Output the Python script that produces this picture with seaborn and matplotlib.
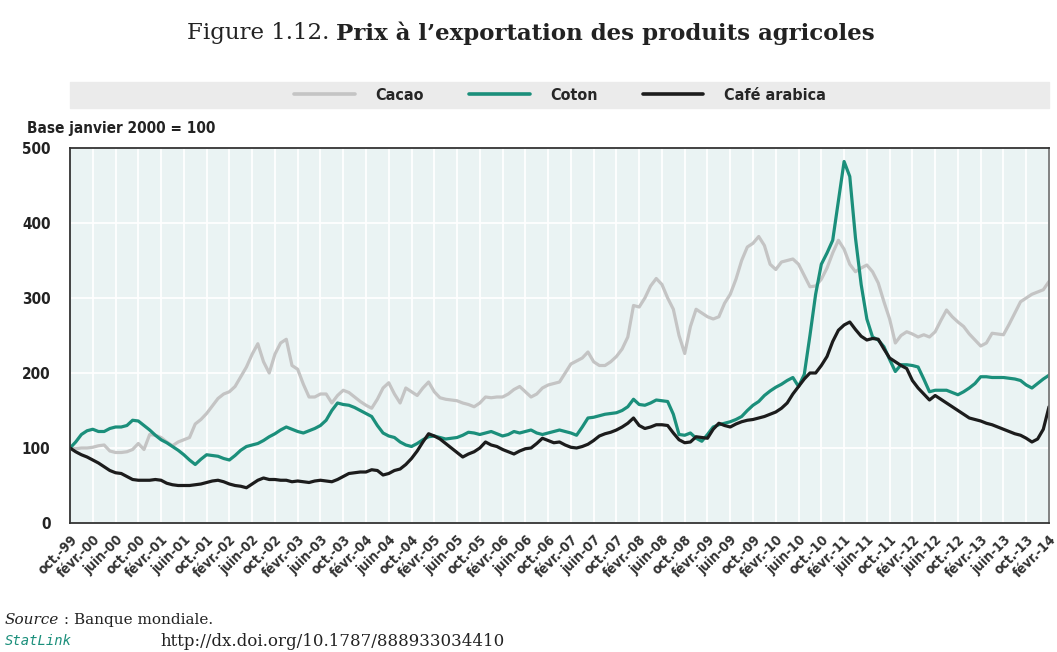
import matplotlib
matplotlib.use("Agg")
import matplotlib.pyplot as plt
import seaborn as sns
import numpy as np
import pandas as pd
from matplotlib.patches import Rectangle
from matplotlib.lines import Line2D
from matplotlib import font_manager

# monthly index, oct. 1999 -> févr. 2014 (base janvier 2000 = 100)
cacao = [100, 99, 100, 100, 101, 103, 104, 96, 94, 94,
         95, 98, 106, 98, 118, 117, 114, 108, 103, 108,
         111, 114, 132, 138, 146, 156, 166, 172, 175, 182,
         195, 208, 225, 239, 215, 200, 225, 240, 245, 210,
         205, 185, 168, 168, 172, 172, 160, 170, 177, 174,
         168, 162, 157, 153, 165, 180, 187, 172, 160, 180,
         175, 170, 180, 188, 175, 167, 165, 164, 163, 160,
         158, 155, 160, 168, 167, 168, 168, 172, 178, 182,
         175, 168, 172, 180, 184, 186, 188, 200, 212, 216,
         220, 228, 215, 210, 210, 215, 222, 232, 248, 290,
         288, 300, 316, 326, 318, 300, 285, 250, 226, 262,
         285, 280, 275, 272, 275, 293, 305, 325, 350, 368,
         373, 382, 370, 345, 338, 348, 350, 352, 345, 330,
         315, 316, 325, 340, 360, 377, 365, 345, 335, 340,
         344, 335, 320, 295, 272, 240, 250, 255, 252, 248,
         251, 248, 255, 270, 284, 275, 268, 262, 252, 244,
         236, 240, 253, 252, 251, 265, 280, 295, 300, 305,
         308, 311, 322]

coton = [100, 108, 118, 123, 125, 122, 122, 126, 128, 128,
         130, 137, 136, 130, 124, 117, 111, 107, 102, 97,
         91, 84, 78, 85, 91, 90, 89, 86, 84, 90,
         97, 102, 104, 106, 110, 115, 119, 124, 128, 125,
         122, 120, 123, 126, 130, 137, 150, 160, 158, 157,
         154, 150, 146, 142, 130, 120, 116, 114, 108, 104,
         102, 106, 111, 115, 116, 114, 112, 113, 114, 117,
         121, 120, 118, 120, 122, 119, 116, 118, 122, 120,
         122, 124, 120, 118, 120, 122, 124, 122, 120, 117,
         128, 140, 141, 143, 145, 146, 147, 150, 155, 165,
         158, 157, 160, 164, 163, 162, 145, 118, 117, 120,
         113, 109, 118, 128, 131, 133, 135, 138, 142, 150,
         157, 162, 170, 176, 181, 185, 190, 194, 182, 198,
         250, 305, 345, 360, 377, 430, 482, 462, 380, 318,
         272, 248, 244, 235, 218, 202, 211, 211, 210, 208,
         192, 175, 177, 177, 177, 174, 171, 175, 180, 186,
         195, 195, 194, 194, 194, 193, 192, 190, 184, 180,
         186, 192, 197]

cafe = [100, 95, 91, 88, 84, 80, 75, 70, 67, 66,
        62, 58, 57, 57, 57, 58, 57, 53, 51, 50,
        50, 50, 51, 52, 54, 56, 57, 55, 52, 50,
        49, 47, 52, 57, 60, 58, 58, 57, 57, 55,
        56, 55, 54, 56, 57, 56, 55, 58, 62, 66,
        67, 68, 68, 71, 70, 64, 66, 70, 72, 78,
        86, 96, 108, 119, 116, 112, 106, 100, 94, 88,
        92, 95, 100, 108, 104, 102, 98, 95, 92, 96,
        99, 100, 106, 113, 110, 107, 108, 104, 101, 100,
        102, 105, 110, 116, 119, 121, 124, 128, 133, 140,
        130, 126, 128, 131, 131, 130, 120, 111, 107, 108,
        115, 114, 113, 125, 133, 130, 128, 132, 135, 137,
        138, 140, 142, 145, 148, 153, 160, 172, 182, 192,
        200, 200, 210, 222, 242, 257, 264, 268, 258, 249,
        244, 246, 245, 232, 220, 215, 210, 206, 190, 180,
        172, 164, 170, 165, 160, 155, 150, 145, 140, 138,
        136, 133, 131, 128, 125, 122, 119, 117, 113, 108,
        112, 125, 155]

tick_labels = ['oct.-99', 'févr.-00', 'juin-00', 'oct.-00', 'févr.-01', 'juin-01',
               'oct.-01', 'févr.-02', 'juin-02', 'oct.-02', 'févr.-03', 'juin-03',
               'oct.-03', 'févr.-04', 'juin-04', 'oct.-04', 'févr.-05', 'juin-05',
               'oct.-05', 'févr.-06', 'juin-06', 'oct.-06', 'févr.-07', 'juin-07',
               'oct.-07', 'févr.-08', 'juin-08', 'oct.-08', 'févr.-09', 'juin-09',
               'oct.-09', 'févr.-10', 'juin-10', 'oct.-10', 'févr.-11', 'juin-11',
               'oct.-11', 'févr.-12', 'juin-12', 'oct.-12', 'févr.-13', 'juin-13',
               'oct.-13', 'févr.-14']

series_names = ['Cacao', 'Coton', 'Café arabica']
colors = {'Cacao': '#c4c4c4', 'Coton': '#1b8f7b', 'Café arabica': '#1c1c1c'}

W, H = 1057, 652

df = pd.concat([
    pd.DataFrame({'mois': np.arange(len(vals)), 'valeur': vals, 'serie': name})
    for name, vals in zip(series_names, [cacao, coton, cafe])
], ignore_index=True)

sns.set_style("white", {"axes.facecolor": "#eaf3f3"})
serif = ['DejaVu Serif']
plt.rcParams['font.family'] = ['DejaVu Sans']
# condensed bold face for the axis texts
narrow = font_manager.FontProperties(family='DejaVu Sans', stretch='condensed', weight='bold')


def nfp(size):
    p = narrow.copy()
    p.set_size(size)
    return p


fig = plt.figure(figsize=(W / 100, H / 100), dpi=100)
ax = fig.add_axes([70 / W, 1 - 523 / H, 979 / W, 375 / H])

sns.lineplot(data=df, x='mois', y='valeur', hue='serie', hue_order=series_names,
             palette=colors, linewidth=2.3, legend=False, ax=ax)

ax.set_xlim(0, len(cacao) - 1)
ax.set_ylim(0, 500)
ax.set_xticks(np.arange(0, len(cacao), 4))
ax.set_xticklabels(tick_labels, rotation=45, ha='right', rotation_mode='anchor',
                   fontproperties=nfp(10), color='#333333')
ax.set_yticks(range(0, 501, 100))
ax.set_yticklabels([str(v) for v in range(0, 501, 100)], fontproperties=nfp(11),
                   color='#222222')
ax.tick_params(axis='both', direction='in', length=5, width=1, color='#333333')
ax.tick_params(axis='x', pad=7)
ax.tick_params(axis='y', pad=14)
ax.set_xlabel('')
ax.set_ylabel('')
ax.grid(True, color='white', linewidth=1.3)
ax.set_axisbelow(True)
for side, sp in ax.spines.items():
    sp.set_visible(True)
    sp.set_color('#333333' if side in ('left', 'bottom', 'top') else '#777777')
    sp.set_linewidth(1.3)

# legend band
fig.patches.append(Rectangle((70 / W, 1 - 108 / H), 979 / W, 26 / H,
                             transform=fig.transFigure, color='#ebebeb', zorder=0))
handles = [Line2D([], [], color=colors[n], linewidth=2.6) for n in series_names]
fig.legend(handles, series_names, loc='center', bbox_to_anchor=(560 / W, 1 - 95 / H),
           ncol=3, frameon=False, handlelength=3.8, handletextpad=1.3,
           columnspacing=2.8, prop=nfp(11.5))

fig.text(27 / W, 1 - 128 / H, 'Base janvier 2000 = 100', fontproperties=nfp(11),
         va='center', ha='left', color='#222222')

# title in two parts: regular + bold
fig.canvas.draw()
r = fig.canvas.get_renderer()
t1 = fig.text(0, 1 - 33 / H, 'Figure 1.12. ', family=serif, fontsize=16.5,
              va='center', color='#222222')
t2 = fig.text(0, 1 - 33 / H, 'Prix à l’exportation des produits agricoles',
              family=serif, fontsize=16.5, fontweight='bold', va='center', color='#222222')
w1 = t1.get_window_extent(r).width
w2 = t2.get_window_extent(r).width
x0 = 531 - (w1 + w2) / 2
t1.set_x(x0 / W)
t2.set_x((x0 + w1) / W)

# source
s1 = fig.text(5 / W, 1 - 620 / H, 'Source', family=serif, style='italic',
              fontsize=11, va='center', color='#222222')
ws = s1.get_window_extent(r).width
fig.text((5 + ws) / W, 1 - 620 / H, ' : Banque mondiale.', family=serif,
         fontsize=11, va='center', color='#222222')
fig.text(5 / W, 1 - 641 / H, 'StatLink', family=['DejaVu Sans Mono'], style='italic',
         fontsize=10, va='center', color='#1b8f7b')
fig.text(160 / W, 1 - 641 / H, 'http://dx.doi.org/10.1787/888933034410', family=serif,
         fontsize=12, va='center', color='#222222')

fig.savefig('out.png', dpi=100)
